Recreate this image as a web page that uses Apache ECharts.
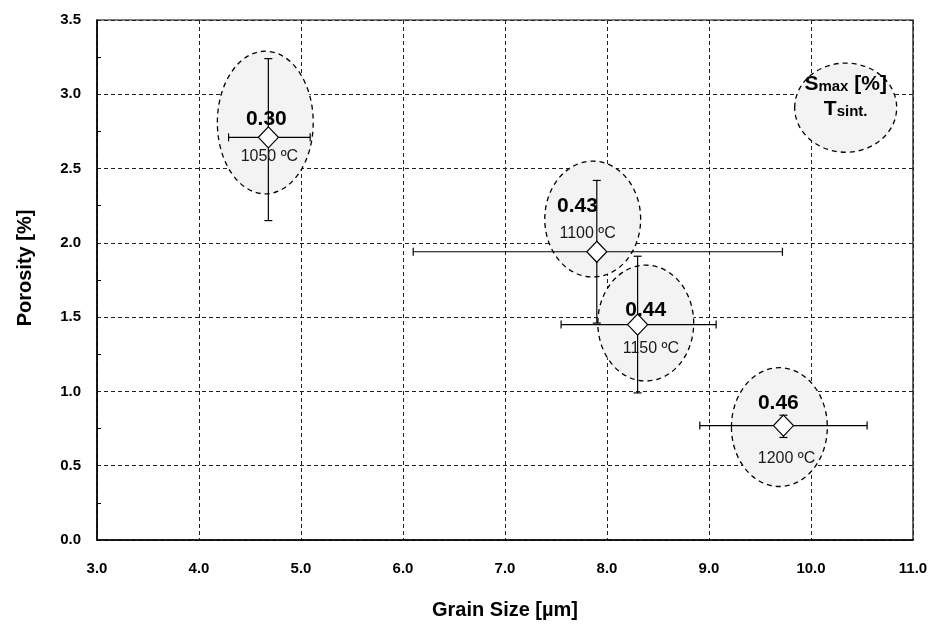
<!DOCTYPE html>
<html>
<head>
<meta charset="utf-8">
<script src="https://cdn.jsdelivr.net/npm/echarts@6/dist/echarts.min.js"></script>
<style>
html, body { margin: 0; padding: 0; background: #fff; }
#chart { width: 936px; height: 628px; }
</style>
</head>
<body>
<div id="chart"></div>
<script>
// measured points, with error bars
var grainSize = [4.68, 7.90, 8.30, 9.73];
var porosity = [2.71, 1.94, 1.45, 0.77];
var grainLow = [4.29, 6.10, 7.55, 8.91];
var grainHigh = [5.09, 9.72, 9.07, 10.55];
var porosityLow = [2.15, 1.46, 0.99, 0.69];
var porosityHigh = [3.24, 2.42, 1.91, 0.84];

// annotations: max shrinkage and sintering temperature
var shrinkage = ['0.30', '0.43', '0.44', '0.46'];
var sinterTemp = ['1050 ºC', '1100 ºC', '1150 ºC', '1200 ºC'];
var shrinkAtX = [4.66, 7.71, 8.38, 9.68];
var shrinkAtY = [2.83, 2.25, 1.55, 0.92];
var tempAtX = [4.69, 7.81, 8.43, 9.76];
var tempAtY = [2.58, 2.06, 1.29, 0.55];

// dashed ellipses (last one is the key)
var ellipseX = [4.65, 7.86, 8.38, 9.69, 10.34];
var ellipseY = [2.81, 2.16, 1.46, 0.76, 2.91];
var ellipseRx = [0.47, 0.47, 0.47, 0.47, 0.50];
var ellipseRy = [0.48, 0.39, 0.39, 0.40, 0.30];
var keyAtX = 10.34;
var keyAtY = [3.08, 2.91];

var font = 'Liberation Sans, Arial, sans-serif';

var chart = echarts.init(document.getElementById('chart'));

var ellipseData = ellipseX.map(function (x, i) {
    return [x, ellipseY[i], ellipseRx[i], ellipseRy[i]];
});
var errorData = grainSize.map(function (x, i) {
    return [x, porosity[i], grainLow[i], grainHigh[i], porosityLow[i], porosityHigh[i]];
});
var textData = [];
shrinkage.forEach(function (s, i) {
    textData.push([shrinkAtX[i], shrinkAtY[i], s, 'big']);
    textData.push([tempAtX[i], tempAtY[i], sinterTemp[i], 'small']);
});
textData.push([keyAtX, keyAtY[0], '{b|S}{s|max}{b| [%]}', 'key']);
textData.push([keyAtX, keyAtY[1], '{b|T}{s|sint.}', 'key']);

var option = {
    animation: false,
    backgroundColor: '#fff',
    grid: {
        left: 97, right: 23, top: 20, bottom: 88,
        show: true, borderColor: '#000', borderWidth: 1.2
    },
    xAxis: {
        type: 'value', min: 3, max: 11, interval: 1,
        name: 'Grain Size [µm]', nameLocation: 'middle', nameGap: 60,
        nameTextStyle: { fontFamily: font, fontSize: 20, fontWeight: 'bold', color: '#000' },
        axisLine: { onZero: false, lineStyle: { color: '#000', width: 1.5 } },
        axisTick: { show: false },
        axisLabel: {
            margin: 21, fontFamily: font, fontSize: 15, fontWeight: 'bold', color: '#000',
            formatter: function (v) { return v.toFixed(1); }
        },
        splitLine: { lineStyle: { color: '#222', type: [4, 3], width: 1 } }
    },
    yAxis: {
        type: 'value', min: 0, max: 3.5, interval: 0.5,
        name: 'Porosity [%]', nameLocation: 'middle', nameGap: 62,
        nameTextStyle: { fontFamily: font, fontSize: 20, fontWeight: 'bold', color: '#000', padding: [0, 0, 0, 24] },
        axisLine: { onZero: false, lineStyle: { color: '#000', width: 1.5 } },
        axisTick: { show: false },
        minorTick: { show: true, splitNumber: 2, length: -4, lineStyle: { color: '#000' } },
        axisLabel: {
            margin: 16, fontFamily: font, fontSize: 15, fontWeight: 'bold', color: '#000',
            formatter: function (v) { return v.toFixed(1); }
        },
        splitLine: { lineStyle: { color: '#222', type: [4, 3], width: 1 } }
    },
    series: [
        {
            type: 'custom',
            z: 2,
            data: ellipseData,
            renderItem: function (params, api) {
                var c = api.coord([api.value(0), api.value(1)]);
                var s = api.size([api.value(2), api.value(3)]);
                return {
                    type: 'ellipse',
                    shape: { cx: c[0], cy: c[1], rx: s[0], ry: s[1] },
                    style: { fill: '#f3f3f3', stroke: '#000', lineWidth: 1.3, lineDash: [5, 4] }
                };
            }
        },
        {
            type: 'custom',
            z: 3,
            data: errorData,
            renderItem: function (params, api) {
                var y = api.value(1), x = api.value(0);
                var l = api.coord([api.value(2), y]);
                var r = api.coord([api.value(3), y]);
                var t = api.coord([x, api.value(5)]);
                var b = api.coord([x, api.value(4)]);
                var st = { stroke: '#000', lineWidth: 1.2 };
                var cap = 4;
                return {
                    type: 'group',
                    children: [
                        { type: 'line', shape: { x1: l[0], y1: l[1], x2: r[0], y2: r[1] }, style: st },
                        { type: 'line', shape: { x1: l[0], y1: l[1] - cap, x2: l[0], y2: l[1] + cap }, style: st },
                        { type: 'line', shape: { x1: r[0], y1: r[1] - cap, x2: r[0], y2: r[1] + cap }, style: st },
                        { type: 'line', shape: { x1: t[0], y1: t[1], x2: b[0], y2: b[1] }, style: st },
                        { type: 'line', shape: { x1: t[0] - cap, y1: t[1], x2: t[0] + cap, y2: t[1] }, style: st },
                        { type: 'line', shape: { x1: b[0] - cap, y1: b[1], x2: b[0] + cap, y2: b[1] }, style: st }
                    ]
                };
            }
        },
        {
            type: 'scatter',
            z: 4,
            symbol: 'diamond',
            symbolSize: [20, 21],
            itemStyle: { color: '#fff', borderColor: '#000', borderWidth: 1.2, opacity: 1 },
            data: grainSize.map(function (x, i) { return [x, porosity[i]]; })
        },
        {
            type: 'custom',
            z: 5,
            data: textData,
            renderItem: function (params, api) {
                var d = textData[params.dataIndex];
                var c = api.coord([d[0], d[1]]);
                var style = {
                    text: d[2], x: c[0], y: c[1],
                    align: 'center', verticalAlign: 'middle',
                    fontFamily: font, fill: '#000'
                };
                if (d[3] === 'big') {
                    style.fontSize = 21; style.fontWeight = 'bold';
                } else if (d[3] === 'small') {
                    style.fontSize = 16; style.fill = '#1a1a1a';
                } else {
                    style.rich = {
                        b: { fontFamily: font, fontSize: 21, fontWeight: 'bold', fill: '#000', lineHeight: 24, verticalAlign: 'bottom' },
                        s: { fontFamily: font, fontSize: 15, fontWeight: 'bold', fill: '#000', lineHeight: 24, verticalAlign: 'bottom' }
                    };
                }
                return { type: 'text', style: style };
            }
        }
    ]
};

chart.setOption(option);
</script>
</body>
</html>
